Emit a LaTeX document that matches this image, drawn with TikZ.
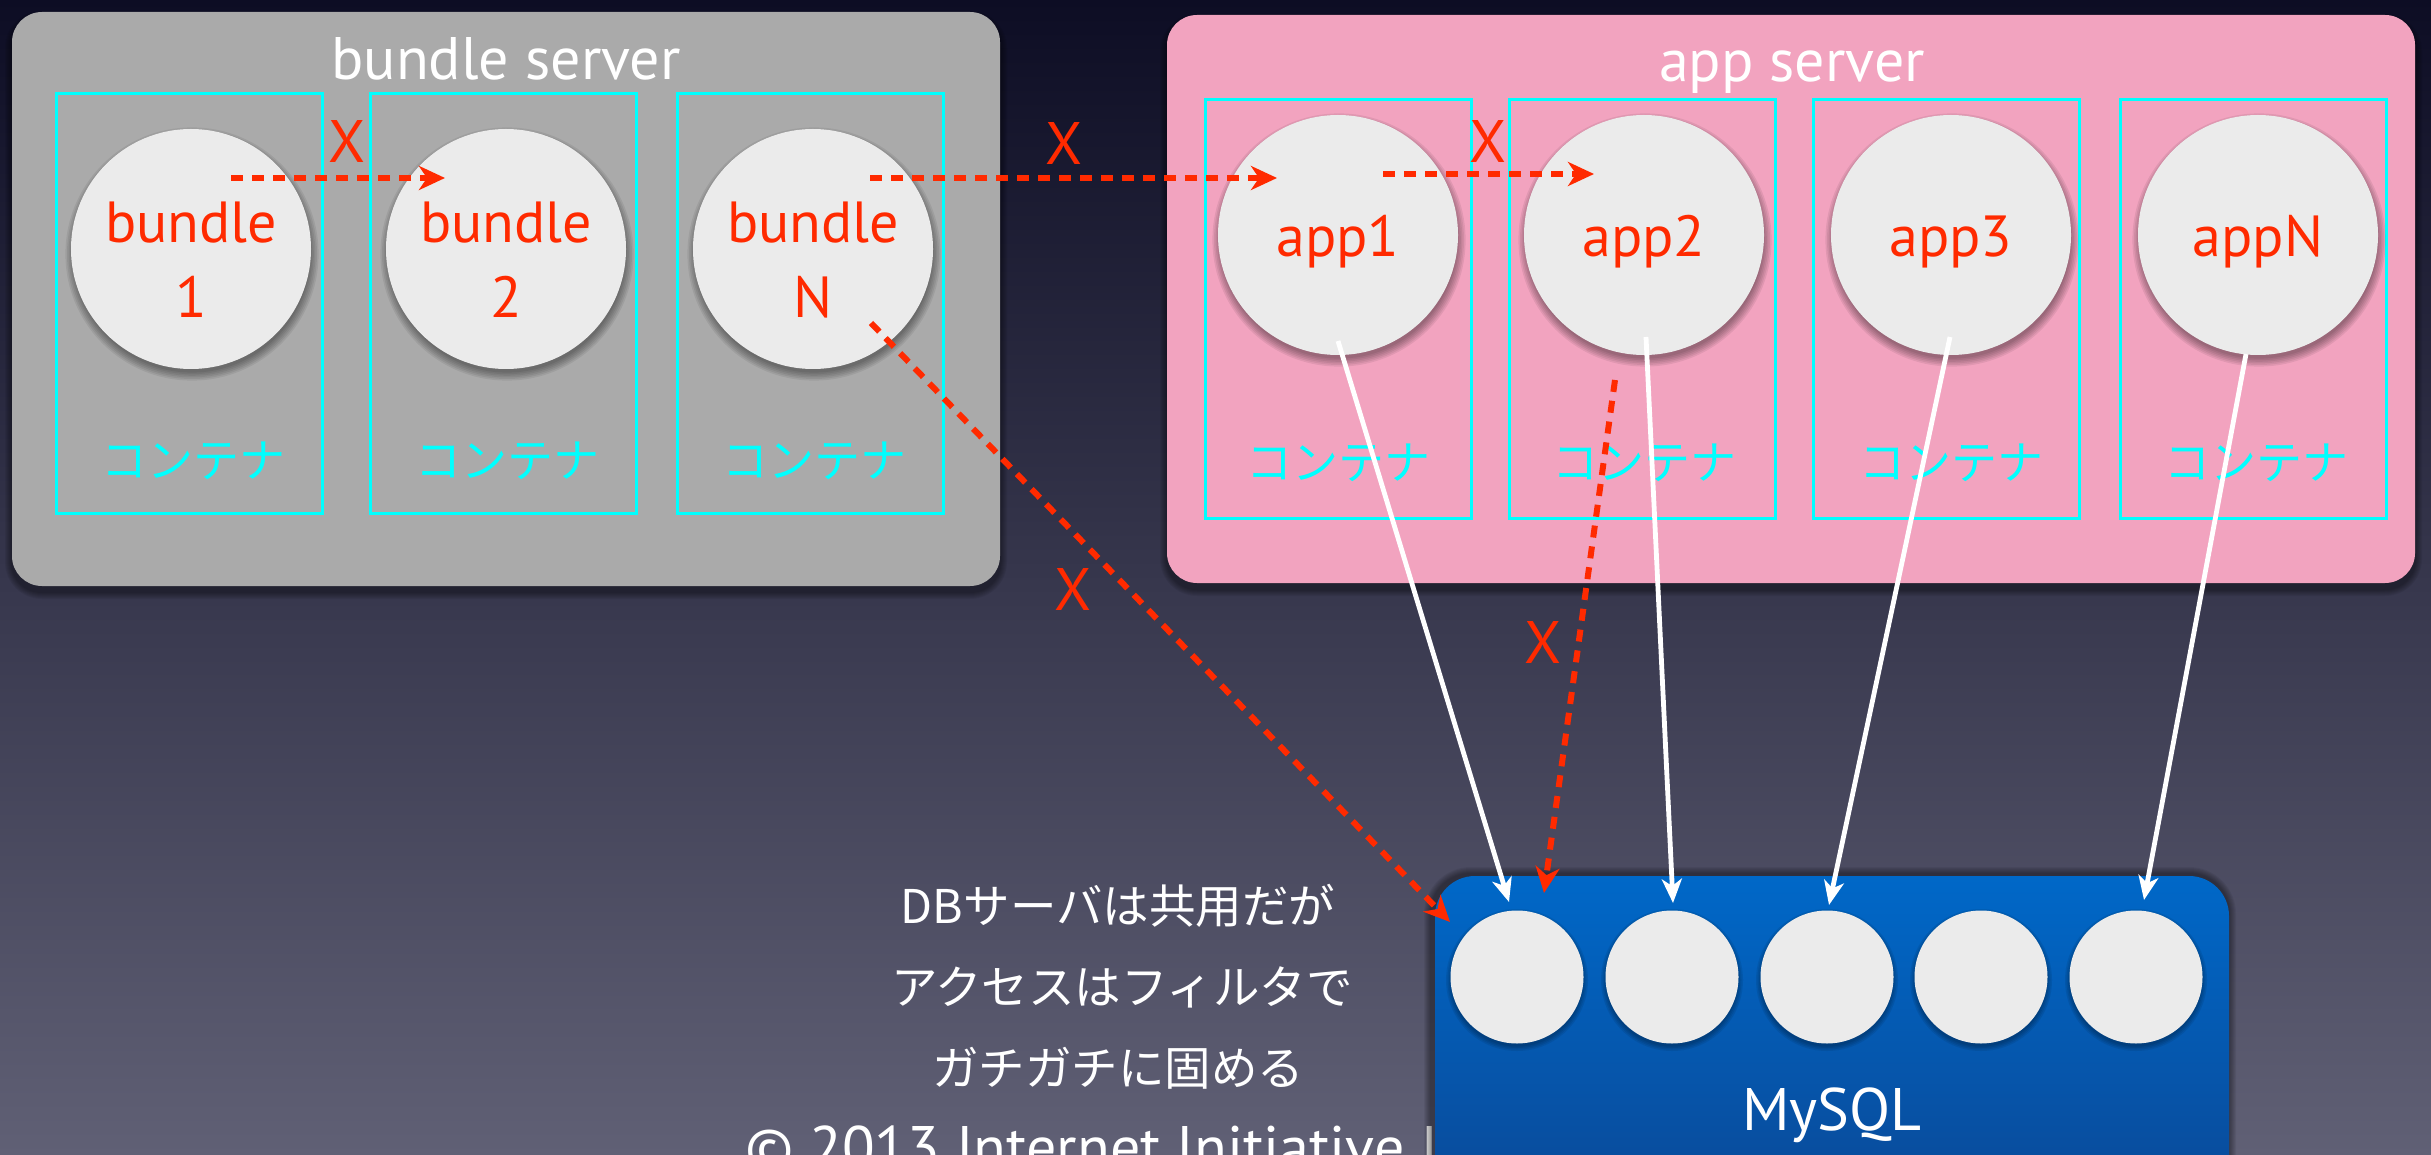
\documentclass[tikz,border=0pt]{standalone}
\usepackage{fontspec}
\setmainfont{PT Sans}
\newfontfamily\cjk{Noto Sans CJK JP}
\usetikzlibrary{arrows.meta,calc}
\definecolor{bgtop}{HTML}{0D0D24}
\definecolor{bgbot}{HTML}{606075}
\definecolor{grayc}{HTML}{AAAAAA}
\definecolor{pinkc}{HTML}{F2A3BF}
\definecolor{cyanc}{HTML}{00FFFF}
\definecolor{redc}{HTML}{FF2A00}
\definecolor{ballc}{HTML}{EBEBEB}
\definecolor{dbtop}{HTML}{0068C8}
\definecolor{dbbot}{HTML}{0A4896}
\begin{document}
\begin{tikzpicture}[x=1pt,y=-1pt,
  ctr/.style={draw=cyanc,line width=3pt,minimum width=266pt,minimum height=419pt,inner sep=0pt},
  ball/.style={circle,fill=ballc,minimum size=240pt,inner sep=0pt},
  dball/.style={circle,fill=ballc,minimum size=133pt,inner sep=0pt},
  ttl/.style={text=white,font=\fontsize{60}{62}\selectfont,anchor=base,inner sep=0pt},
  redlbl/.style={text=redc,font=\fontsize{58}{60}\selectfont,anchor=base,inner sep=0pt},
  ctrlbl/.style={text=cyanc,font=\cjk\fontsize{46}{48}\selectfont,inner sep=0pt},
  jptxt/.style={text=white,font=\cjk\fontsize{46.5}{48}\selectfont,inner sep=0pt},
  xmark/.style={text=redc,font=\fontsize{60}{60}\selectfont,inner sep=0pt},
  shd/.style={fill=black,opacity=.06},
  redarrow/.style={draw=redc,line width=6pt,dash pattern=on 12pt off 9pt,
    -{Stealth[length=26pt,width=24pt,inset=8pt]}},
  whitearrow/.style={draw=white,line width=4.8pt,
    -{Stealth[length=24pt,width=20pt,inset=7pt]}}
]
\useasboundingbox (0,0) rectangle (2431,1155);
\clip (0,0) rectangle (2431,1155);
\shade[top color=bgtop,bottom color=bgbot] (0,0) rectangle (2431,1155);

% soft shadows of the server boxes
\foreach \r in {1,...,7}{
  \fill[shd,rounded corners=30pt+\r pt] (12-\r,18-\r) rectangle (1000+\r,592+\r);
  \fill[shd,rounded corners=30pt+\r pt] (1167-\r,21-\r) rectangle (2415+\r,589+\r);
}
% servers
\node[fill=grayc,rounded corners=30pt,minimum width=988pt,minimum height=574pt] (bs) at (506,299) {};
\node[fill=pinkc,rounded corners=30pt,minimum width=1248pt,minimum height=568pt] (as) at (1791,299) {};
\node[ttl] (bst) at (506,80) {bundle server};
\node[ttl] (ast) at (1792,82) {app server};

% containers
\node[ctr] (c1) at (189,303.5) {};
\node[ctr] (c2) at (503.5,303.5) {};
\node[ctr] (c3) at (810.5,303.5) {};
\node[ctr] (c4) at (1338.5,309) {};
\node[ctr] (c5) at (1642,309) {};
\node[ctr] (c6) at (1946,309) {};
\node[ctr] (c7) at (2253,309) {};
\node[ctrlbl] (l1) at (193,461) {コンテナ};
\node[ctrlbl] (l2) at (507,461) {コンテナ};
\node[ctrlbl] (l3) at (814,461) {コンテナ};
\node[ctrlbl] (l4) at (1338,463) {コンテナ};
\node[ctrlbl] (l5) at (1644,463) {コンテナ};
\node[ctrlbl] (l6) at (1951,463) {コンテナ};
\node[ctrlbl] (l7) at (2256,463) {コンテナ};

% soft shadows of the balls
\foreach \x/\y in {191/249,506/249,813/249,1338/235,1644/235,1951/235,2258/235}{
  \foreach \r in {1,...,6}
    \fill[shd,opacity=.07] (\x+1,\y+5) circle[radius=117pt+1.6*\r pt];
}
% balls
\node[ball] (b1) at (191,249) {};
\node[ball] (b2) at (506,249) {};
\node[ball] (bN) at (813,249) {};
\node[ball] (a1) at (1338,235) {};
\node[ball] (a2) at (1644,235) {};
\node[ball] (a3) at (1951,235) {};
\node[ball] (aN) at (2258,235) {};
\node[redlbl] (t1a) at (191,243) {bundle};
\node[redlbl] (t1b) at (191,318) {1};
\node[redlbl] (t2a) at (506,243) {bundle};
\node[redlbl] (t2b) at (506,318) {2};
\node[redlbl] (t3a) at (813,243) {bundle};
\node[redlbl] (t3b) at (813,318) {N};
\node[redlbl] (t4) at (1338,257) {app1};
\node[redlbl] (t5) at (1644,257) {app2};
\node[redlbl] (t6) at (1951,257) {app3};
\node[redlbl] (t7) at (2258,257) {appN};

% copyright
\node[text=white,font=\fontsize{60}{60}\selectfont,anchor=base west,inner sep=0pt] (copy) at (745,1168) {© 2013 Internet Initiative Ja};

% db
\foreach \r in {1,...,7}
  \fill[shd,rounded corners=40pt+\r pt] (1431-\r,874-\r) rectangle (2229+\r,1220);
\node[top color=dbtop,bottom color=dbbot,rounded corners=40pt,minimum width=794pt,minimum height=340pt] (db) at (1832,1046) {};
\foreach \x in {1517,1672,1827,1981,2136}{
  \foreach \r in {1,...,4}
    \fill[shd,opacity=.08] (\x,980) circle[radius=65pt+1.5*\r pt];
}
\node[dball] (m1) at (1517,977) {};
\node[dball] (m2) at (1672,977) {};
\node[dball] (m3) at (1827,977) {};
\node[dball] (m4) at (1981,977) {};
\node[dball] (m5) at (2136,977) {};
\node[ttl] (dbt) at (1832,1130) {MySQL};

\node[jptxt] (j1) at (1118,906) {DBサーバは共用だが};
\node[jptxt] (j2) at (1122,987) {アクセスはフィルタで};
\node[jptxt] (j3) at (1118,1068) {ガチガチに固める};

% arrows
\draw[whitearrow] ($(a1.center)+(0,106)$) -- ($(m1.center)+(-8,-75)$);
\draw[whitearrow] ($(a2.center)+(2,102)$) -- ($(m2.center)+(1,-74)$);
\draw[whitearrow] ($(a3.center)+(-1,102)$) -- ($(m3.center)+(2,-72)$);
\draw[whitearrow] ($(aN.center)+(-12,119)$) -- ($(m5.center)+(8,-77)$);

\draw[redarrow] ($(b1.center)+(40,-71)$) -- ($(b2.center)+(-61,-71)$);
\draw[redarrow] ($(bN.center)+(57,-71)$) -- ($(a1.center)+(-61,-57)$);
\draw[redarrow] ($(a1.center)+(45,-61)$) -- ($(a2.center)+(-50,-61)$);
\draw[redarrow] ($(bN.center)+(58,74)$) -- ($(m1.center)+(-67,-55)$);
\draw[redarrow] ($(a2.center)+(-29,145)$) -- ($(m1.center)+(27,-84)$);

\node[xmark] (x1) at (347,142) {X};
\node[xmark] (x2) at (1064,144) {X};
\node[xmark] (x3) at (1488,142) {X};
\node[xmark] (x4) at (1073,589) {X};
\node[xmark] (x5) at (1543,642) {X};
\end{tikzpicture}
\end{document}
